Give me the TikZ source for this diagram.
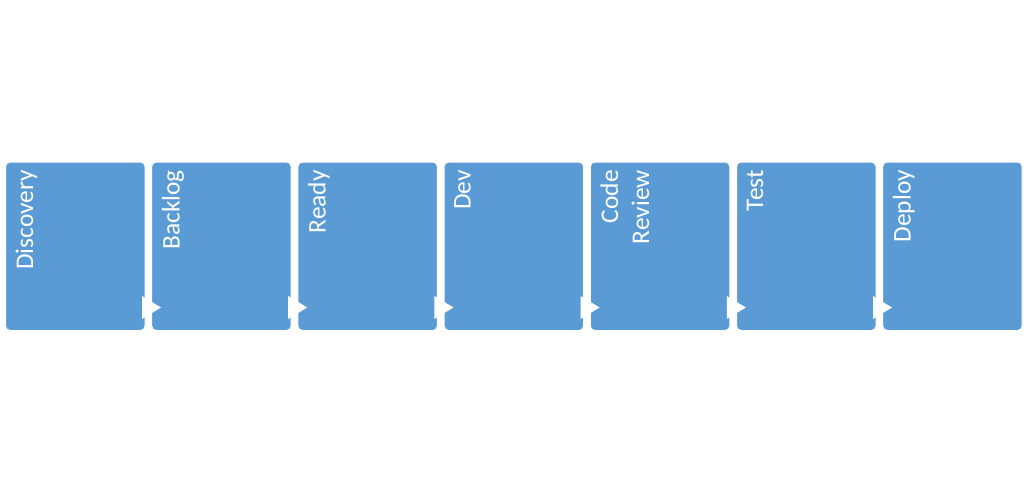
\documentclass[tikz,border=0pt]{standalone}
\usepackage{fontspec}
\setmainfont{Carlito}
\usetikzlibrary{calc}
\definecolor{boxblue}{HTML}{5B9BD5}
\tikzset{
  stagebox/.style={fill=boxblue, draw=white, line width=1pt, rounded corners=4.5pt,
    minimum width=139.5pt, minimum height=168.5pt, anchor=north west, inner sep=0pt},
  stagelabel/.style={rotate=90, anchor=north east, align=right, inner sep=0pt,
    text=white, font=\fontsize{25.4}{31}\selectfont},
  pointer/.style={fill=white, draw=none}
}
\begin{document}
\begin{tikzpicture}[x=1pt,y=1pt]
\useasboundingbox (0,0) rectangle (1024,-492);
\foreach \i/\t in {1/Discovery,2/Backlog,3/Ready,4/Dev,5/{Code\\Review},6/Test,7/Deploy}{
  \node[stagebox] (b\i) at ({5+146.2*(\i-1)},-161.5) {};
  \node[stagelabel] (t\i) at ([xshift=10.5pt,yshift=-8.5pt]b\i.north west) {\t};
}
\foreach \i in {1,...,6}{
  \coordinate (p\i) at (b\i.south east);
  \fill[pointer] ($(p\i)+(-3.5,35)$) -- ($(p\i)+(15.5,23.5)$) -- ($(p\i)+(-3.5,12)$) -- cycle;
}
\end{tikzpicture}
\end{document}
